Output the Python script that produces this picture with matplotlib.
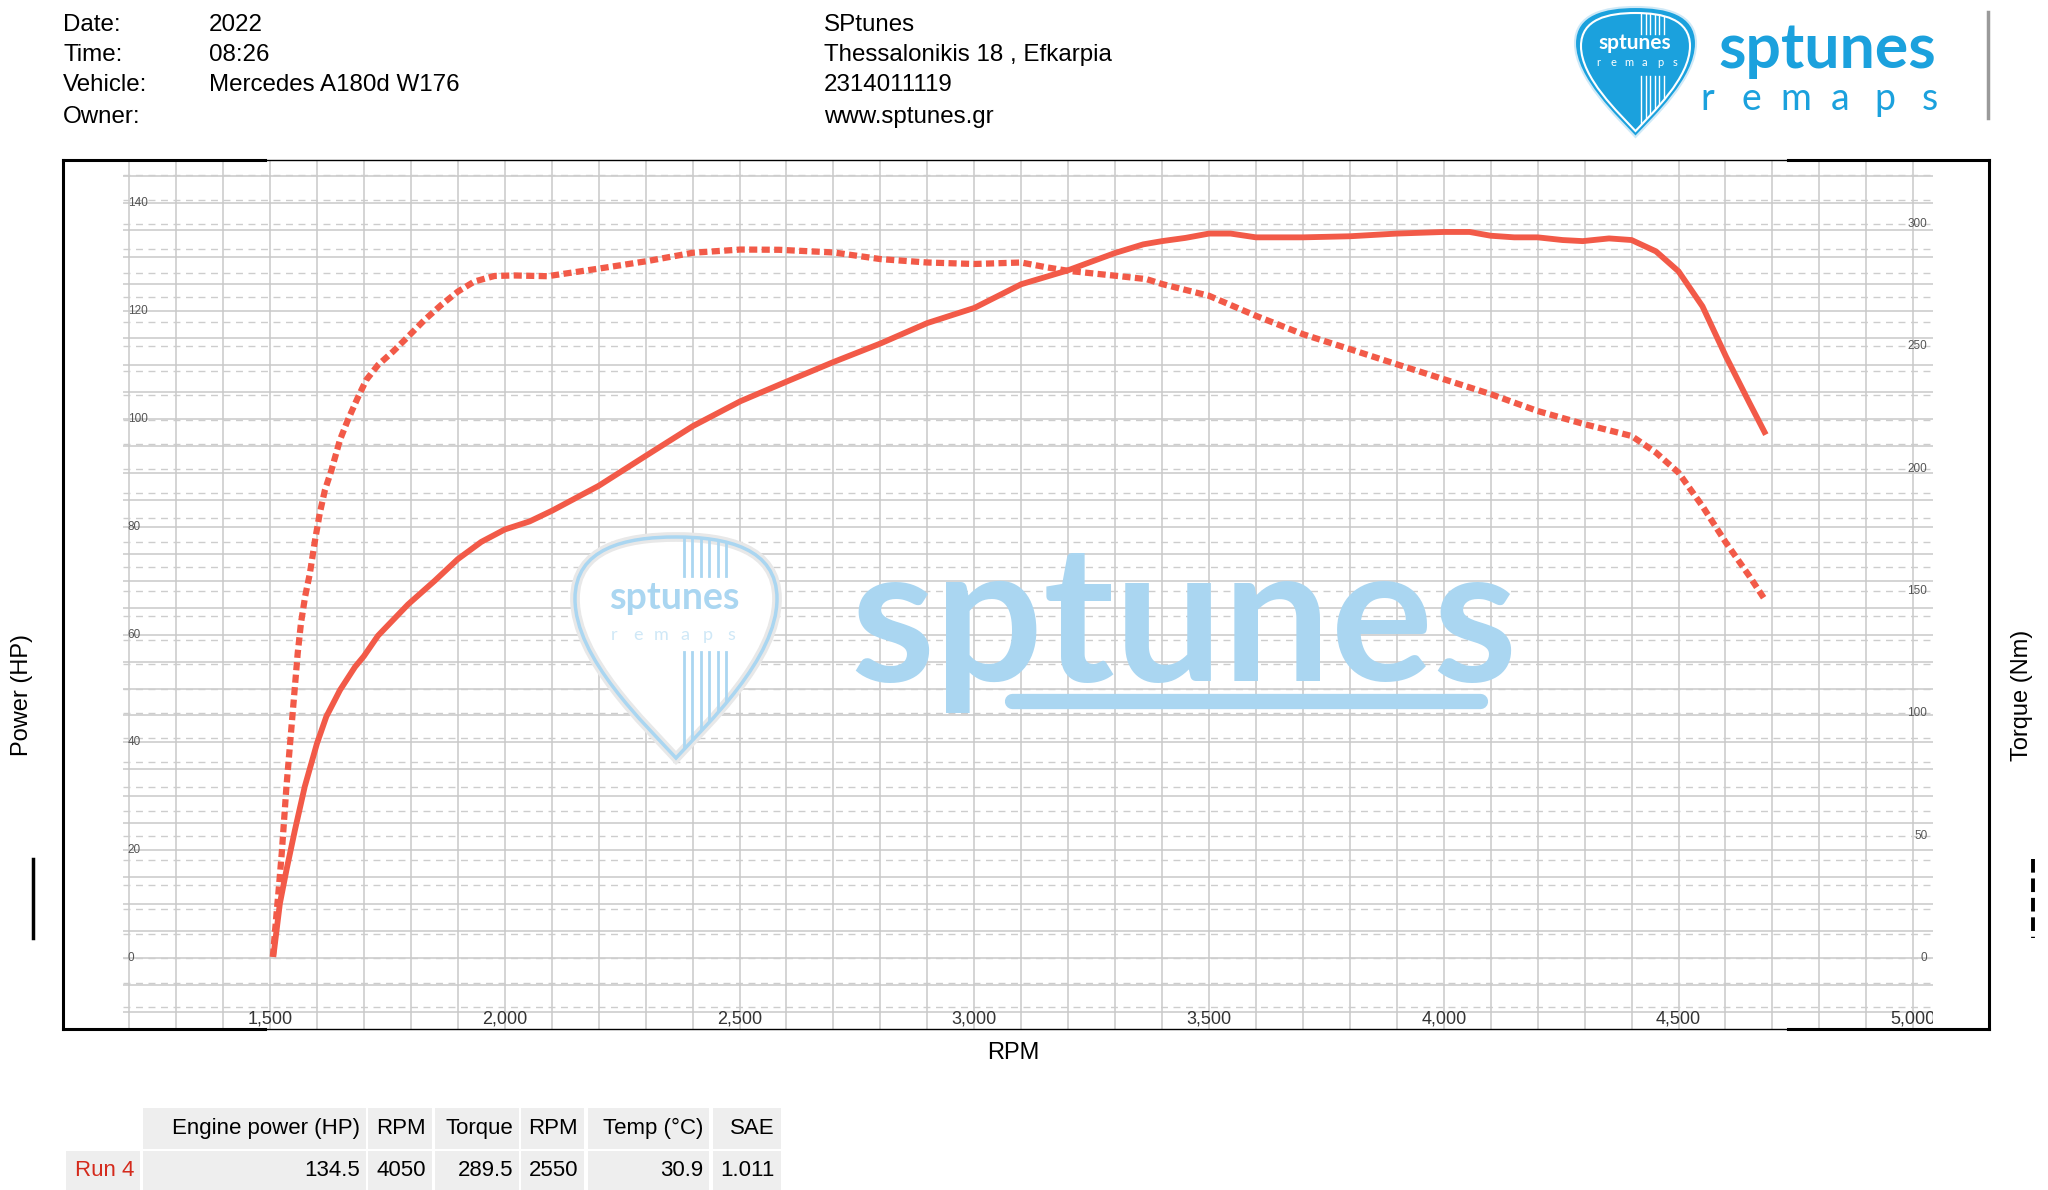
import numpy as np
import matplotlib
matplotlib.use('Agg')
import matplotlib.pyplot as plt
from matplotlib.lines import Line2D
from matplotlib.patches import PathPatch, Rectangle
from matplotlib.path import Path
from matplotlib.transforms import blended_transform_factory, Bbox, TransformedBbox

plt.rcParams['font.family'] = ['Liberation Sans', 'DejaVu Sans']

# dyno run values
rpm_power = [1507, 1521, 1535, 1553, 1574, 1600, 1620, 1649, 1681, 1700, 1730, 1794,
             1851, 1900, 1950, 2000, 2053, 2101, 2200, 2301, 2401, 2502, 2602, 2701,
             2800, 2900, 3000, 3100, 3200, 3300, 3360, 3400, 3450, 3500, 3546, 3600,
             3700, 3800, 3900, 4000, 4055, 4100, 4150, 4200, 4253, 4296, 4352, 4400,
             4452, 4500, 4551, 4601, 4651, 4686]
power_hp = [0.2, 10.1, 16.3, 23.7, 31.8, 39.8, 44.8, 49.7, 54.0, 56.0, 59.8, 65.6,
            70.0, 74.0, 77.2, 79.5, 81.0, 83.0, 87.6, 93.2, 98.7, 103.3, 107.0, 110.6,
            114.0, 117.8, 120.6, 125.0, 127.6, 130.8, 132.4, 133.0, 133.6, 134.4, 134.4, 133.7,
            133.7, 133.9, 134.4, 134.7, 134.7, 134.0, 133.7, 133.7, 133.2, 133.0, 133.5, 133.2,
            131.1, 127.4, 120.9, 111.6, 103.0, 97.1]

rpm_torque = [1506, 1514, 1519, 1525, 1530, 1535, 1541, 1547, 1553, 1559, 1566, 1575,
              1585, 1596, 1606, 1617, 1631, 1649, 1666, 1688, 1705, 1730, 1762, 1794,
              1829, 1865, 1900, 1935, 1978, 2020, 2091, 2200, 2301, 2401, 2502, 2584,
              2701, 2800, 2900, 3000, 3100, 3155, 3200, 3300, 3367, 3400, 3500, 3600,
              3700, 3800, 3900, 4000, 4100, 4200, 4300, 4400, 4452, 4500, 4551, 4601,
              4651, 4686]
torque_nm = [0.5, 18.3, 29.1, 42.8, 56.4, 70.0, 83.7, 97.3, 110.9, 124.6, 137.0, 148.0,
             157.3, 170.9, 181.8, 191.3, 199.5, 211.8, 220.0, 229.5, 236.3, 242.4, 247.9, 254.0,
             260.8, 267.0, 272.4, 276.5, 278.8, 279.0, 278.7, 281.8, 284.8, 288.3, 289.6, 289.5,
             288.4, 285.7, 284.3, 283.7, 284.3, 282.3, 280.9, 278.9, 277.5, 275.5, 270.7, 262.5,
             255.0, 248.9, 242.7, 236.6, 230.5, 223.6, 218.2, 213.4, 206.6, 198.4, 184.7, 169.8,
             156.1, 145.9]

power_ticks = [0, 20, 40, 60, 80, 100, 120, 140]
torque_ticks = [0, 50, 100, 150, 200, 250, 300]
rpm_ticks = [1500, 2000, 2500, 3000, 3500, 4000, 4500, 5000]

info_labels = ['Date:', 'Time:', 'Vehicle:', 'Owner:']
info_values = ['2022', '08:26', 'Mercedes A180d W176', '']
shop_lines = ['SPtunes', 'Thessalonikis 18 , Efkarpia', '2314011119', 'www.sptunes.gr']

table_header = ['', 'Engine power (HP)', 'RPM', 'Torque', 'RPM', 'Temp (°C)', 'SAE']
table_row = ['Run 4', '134.5', '4050', '289.5', '2550', '30.9', '1.011']

RED = '#f25a48'
BLUE = '#1ba1dd'
WM_BLUE = '#aad6f1'
W, H = 2048, 1190


def fx(x):
    return x / W


def fy(y):
    return 1 - y / H


def pick_path(x0, y0, x1, y1):
    """Guitar pick outline inside a pixel box (y measured from the top)."""
    pts = [(0.5, 0.0), (0.35, 0.15), (0.0, 0.45), (0.0, 0.72),
           (0.0, 0.95), (0.25, 1.0), (0.5, 1.0),
           (0.75, 1.0), (1.0, 0.95), (1.0, 0.72),
           (1.0, 0.45), (0.65, 0.15), (0.5, 0.0), (0.5, 0.0)]
    verts = [(fx(x0 + u * (x1 - x0)), fy(y1 - v * (y1 - y0))) for u, v in pts]
    codes = [Path.MOVETO] + [Path.CURVE4] * 12 + [Path.CLOSEPOLY]
    return Path(verts, codes)


fig = plt.figure(figsize=(20.48, 11.9), dpi=100)
fig.patch.set_facecolor('white')

# ---- header ----
for i, y in enumerate([25, 55, 85, 117]):
    fig.text(fx(63), fy(y), info_labels[i], fontsize=17.4, va='center')
    fig.text(fx(209), fy(y), info_values[i], fontsize=17.4, va='center')
    fig.text(fx(824), fy(y), shop_lines[i], fontsize=17.4, va='center')

# ---- logo top right ----
shield = PathPatch(pick_path(1575, 7, 1696, 137), transform=fig.transFigure,
                   facecolor=BLUE, edgecolor='#cfe9f7', lw=1.5)
fig.add_artist(shield)
inner = PathPatch(pick_path(1581, 13, 1690, 131), transform=fig.transFigure,
                  facecolor='none', edgecolor='white', lw=1.5)
fig.add_artist(inner)
for k in range(6):
    xs = 1641 + k * 4.6
    for ya, yb in [(13, 34), (76, 134)]:
        ln = Line2D([fx(xs), fx(xs)], [fy(ya), fy(yb)], transform=fig.transFigure,
                    color='white', lw=1.0)
        ln.set_clip_path(inner)
        fig.add_artist(ln)
fig.text(fx(1635), fy(43), 'sptunes', color='white', fontsize=15, weight='bold',
         family='Lato', ha='center', va='center')
for k, ch in enumerate('remaps'):
    fig.text(fx(1598 + k * 15.5), fy(63), ch, color='white', fontsize=8,
             family='Lato', ha='center', va='center')
fig.text(fx(1827), fy(68), 'sptunes', color=BLUE, fontsize=45, weight='bold',
         family='Lato', ha='center', va='baseline')
for k, ch in enumerate('remaps'):
    fig.text(fx(1707 + k * 44.5), fy(110), ch, color=BLUE, fontsize=27,
             family='Lato', ha='center', va='baseline')
fig.add_artist(Line2D([fx(1988), fx(1988)], [fy(12), fy(118)], color='#9a9a9a', lw=2.5))

# ---- chart ----
ax = fig.add_axes([fx(63), fy(1029), (1989 - 63) / W, (1029 - 160) / H])
ax2 = ax.twinx()
ax.set_facecolor('white')
for a in (ax, ax2):
    a.set_xticks([])
    a.set_yticks([])
for s in ax2.spines.values():
    s.set_visible(False)
for side in ('left', 'right'):
    ax.spines[side].set_linewidth(2.2)
for side in ('top', 'bottom'):
    ax.spines[side].set_linewidth(1.0)

# grid: solid power lines every 5 HP, dashed torque lines every 10 Nm, 100 rpm columns
for r in range(1200, 5001, 100):
    ax.axvline(r, color='#c9c9c9', lw=1.1, zorder=1)
ax.hlines(np.arange(-10, 146, 5), 1187, 5043, colors='#c9c9c9', lw=1.1, zorder=1)
tq_tr = blended_transform_factory(ax.transData, ax2.transData)
ax.hlines(np.arange(-20, 321, 10), 1187, 5043, colors='#cdcdcd', lw=1.0,
          linestyles=(0, (5, 4)), transform=tq_tr, zorder=1)

# watermark
wm_pick = PathPatch(pick_path(575, 537, 777, 758), transform=fig.transFigure,
                    facecolor='white', edgecolor='#e8e8e8', lw=7, zorder=2)
ax.add_patch(wm_pick)
wm_line = PathPatch(pick_path(575, 537, 777, 758), transform=fig.transFigure,
                    facecolor='none', edgecolor=WM_BLUE, lw=2.5, zorder=2)
ax.add_patch(wm_line)
for k in range(6):
    xs = 684 + k * 8.4
    for ya, yb in [(538, 576), (652, 760)]:
        ln = Line2D([fx(xs), fx(xs)], [fy(ya), fy(yb)], transform=fig.transFigure,
                    color=WM_BLUE, lw=2.0, zorder=2)
        ln.set_clip_path(wm_pick)
        ax.add_line(ln)
ax.text(fx(674), fy(598), 'sptunes', transform=fig.transFigure, color=WM_BLUE,
        fontsize=27, weight='bold', family='Lato', ha='center', va='center', zorder=2)
for k, ch in enumerate('remaps'):
    ax.text(fx(614 + k * 23.5), fy(635), ch, transform=fig.transFigure, color='#cfe8f7',
            fontsize=13, family='Lato', ha='center', va='center', zorder=2)
ax.text(fx(1184), fy(681), 'sptunes', transform=fig.transFigure, color=WM_BLUE,
        fontsize=138, weight='bold', family='Lato', ha='center', va='baseline', zorder=2)
ax.add_line(Line2D([fx(1012), fx(1480)], [fy(701), fy(701)], transform=fig.transFigure,
                   color=WM_BLUE, lw=11, solid_capstyle='round', zorder=2))

# axis value labels drawn inside the grid
for v in power_ticks:
    ax.text(1197, v, str(v), ha='left', va='center', fontsize=8.5, color='#555555', zorder=3)
for v in torque_ticks:
    ax2.text(5030, v, str(v), ha='right', va='center', fontsize=8.5, color='#555555')
clip = TransformedBbox(Bbox([[1059, -14], [5043, 150]]), ax.transData)
for r in rpm_ticks:
    t = ax.text(r, -11.3, f'{r:,}', ha='center', va='center', fontsize=13,
                color='#333333', zorder=3)
    t.set_clip_box(clip)
    t.set_clip_on(True)

# curves
ax.plot(rpm_power, power_hp, color=RED, lw=4.2, solid_capstyle='butt', zorder=5)
ax2.plot(rpm_torque, torque_nm, color=RED, lw=4.5, linestyle=(0, (1.3, 0.7)),
         dash_capstyle='butt', zorder=5)

ax.set_xlim(1059.1, 5161.3)
ax.set_ylim(-13.17, 148.05)
ax2.set_ylim(-29.0, 326.2)

# heavier corner segments of the frame
for xa, xb in [(63, 265), (1788, 1989)]:
    for yy in (160, 1029):
        fig.add_artist(Line2D([fx(xa), fx(xb)], [fy(yy), fy(yy)], color='black', lw=2.2))

# axis titles and legend strokes
fig.text(fx(22), fy(695), 'Power (HP)', rotation=90, ha='center', va='center', fontsize=17)
fig.text(fx(2022), fy(695), 'Torque (Nm)', rotation=90, ha='center', va='center', fontsize=17)
fig.text(fx(1013), fy(1053), 'RPM', ha='center', va='center', fontsize=17)
fig.add_artist(Line2D([fx(33), fx(33)], [fy(859), fy(938)], color='black', lw=2.5))
fig.add_artist(Line2D([fx(2033), fx(2033)], [fy(859), fy(938)], color='black', lw=2.8,
                      linestyle=(0, (3.5, 1.5))))

# ---- results table ----
col_x = [(66, 140), (143, 366), (368, 432), (435, 519), (521, 584), (588, 709), (713, 781)]
rows = [(table_header, 1108, 1149), (table_row, 1151, 1190)]
for ri, (cells, ya, yb) in enumerate(rows):
    for ci, (xa, xb) in enumerate(col_x):
        if ri == 0 and ci == 0:
            continue
        fig.add_artist(Rectangle((fx(xa), fy(yb)), (xb - xa) / W, (yb - ya) / H,
                                 transform=fig.transFigure, facecolor='#eeeeee',
                                 edgecolor='none'))
        color = '#d42a1c' if (ri == 1 and ci == 0) else 'black'
        fig.text(fx(xb - 6), fy((ya + yb) / 2), cells[ci], ha='right', va='center',
                 fontsize=16, color=color)

fig.savefig('out.png', dpi=100)
